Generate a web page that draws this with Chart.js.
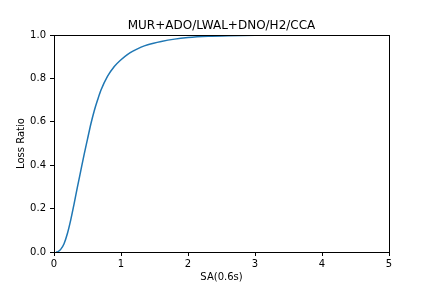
<!DOCTYPE html>
<html>
<head>
<meta charset="utf-8">
<script src="https://cdn.jsdelivr.net/npm/chart.js@4/dist/chart.umd.min.js"></script>
<style>
  html, body { margin: 0; padding: 0; background: #fff; }
  #wrap { width: 432px; height: 288px; }
</style>
</head>
<body>
<div id="wrap"><canvas id="chart" width="432" height="288"></canvas></div>
<script>
// values
const saValues = [0.03, 0.06, 0.1, 0.15, 0.2, 0.25, 0.3, 0.35, 0.4, 0.45, 0.5, 0.55, 0.6, 0.65, 0.7, 0.8, 0.9, 1.0, 1.1, 1.2, 1.3, 1.4, 1.6, 1.8, 2.0, 2.3, 2.6, 3.0, 3.5, 4.0, 4.5, 5.0];
const lossRatio = [0, 0.002, 0.012, 0.038, 0.085, 0.148, 0.222, 0.30, 0.375, 0.45, 0.52, 0.59, 0.65, 0.70, 0.745, 0.81, 0.855, 0.886, 0.911, 0.929, 0.944, 0.955, 0.97, 0.981, 0.988, 0.994, 0.997, 0.999, 1, 1, 1, 1];
const xTicks = [0, 1, 2, 3, 4, 5];
const yTicks = [0, 0.2, 0.4, 0.6, 0.8, 1.0];
const chartTitle = "MUR+ADO/LWAL+DNO/H2/CCA";

const font = "'DejaVu Sans', sans-serif";

// frame around the plot + title
const framePlugin = {
  id: "frame",
  afterDraw(chart) {
    const { ctx, chartArea: a } = chart;
    ctx.save();
    ctx.strokeStyle = "#000";
    ctx.lineWidth = 1;
    ctx.strokeRect(Math.round(a.left) + 0.5, Math.round(a.top) + 0.5, Math.round(a.right - a.left), Math.round(a.bottom - a.top));
    ctx.fillStyle = "#000";
    ctx.font = "12px " + font;
    ctx.textAlign = "center";
    ctx.textBaseline = "alphabetic";
    ctx.fillText(chartTitle, (a.left + a.right) / 2, a.top - 6);
    ctx.restore();
  },
};

new Chart(document.getElementById("chart"), {
  type: "scatter",
  data: {
    datasets: [{
      data: saValues.map((x, i) => ({ x, y: lossRatio[i] })),
      showLine: true,
      borderColor: "#1f77b4",
      borderWidth: 1.5,
      pointRadius: 0,
      cubicInterpolationMode: "monotone",
      fill: false,
    }],
  },
  options: {
    responsive: false,
    animation: false,
    layout: { padding: { left: 0, right: 43, top: 35, bottom: 0 } },
    plugins: { legend: { display: false }, tooltip: { enabled: false } },
    scales: {
      x: {
        type: "linear",
        min: 0, max: 5,
        afterBuildTicks(s) { s.ticks = xTicks.map((v) => ({ value: v })); },
        afterFit(s) { s.height = 36; },
        grid: { drawOnChartArea: false, tickLength: 4, color: "#000", tickColor: "#000" },
        border: { color: "#000" },
        ticks: { color: "#000", font: { family: font, size: 10 }, padding: 2, maxRotation: 0 },
        title: { display: true, text: "SA(0.6s)", color: "#000", font: { family: font, size: 10 }, padding: { top: 2, bottom: 5 } },
      },
      y: {
        type: "linear",
        min: 0, max: 1,
        afterBuildTicks(s) { s.ticks = yTicks.map((v) => ({ value: v })); },
        afterFit(s) { s.width = 54; },
        grid: { drawOnChartArea: false, tickLength: 4, color: "#000", tickColor: "#000" },
        border: { color: "#000" },
        ticks: { color: "#000", font: { family: font, size: 10 }, padding: 4, callback: (v) => v.toFixed(1) },
        title: { display: true, text: "Loss Ratio", color: "#000", font: { family: font, size: 10 }, padding: { top: 15, bottom: 0 } },
      },
    },
  },
  plugins: [framePlugin],
});
</script>
</body>
</html>
